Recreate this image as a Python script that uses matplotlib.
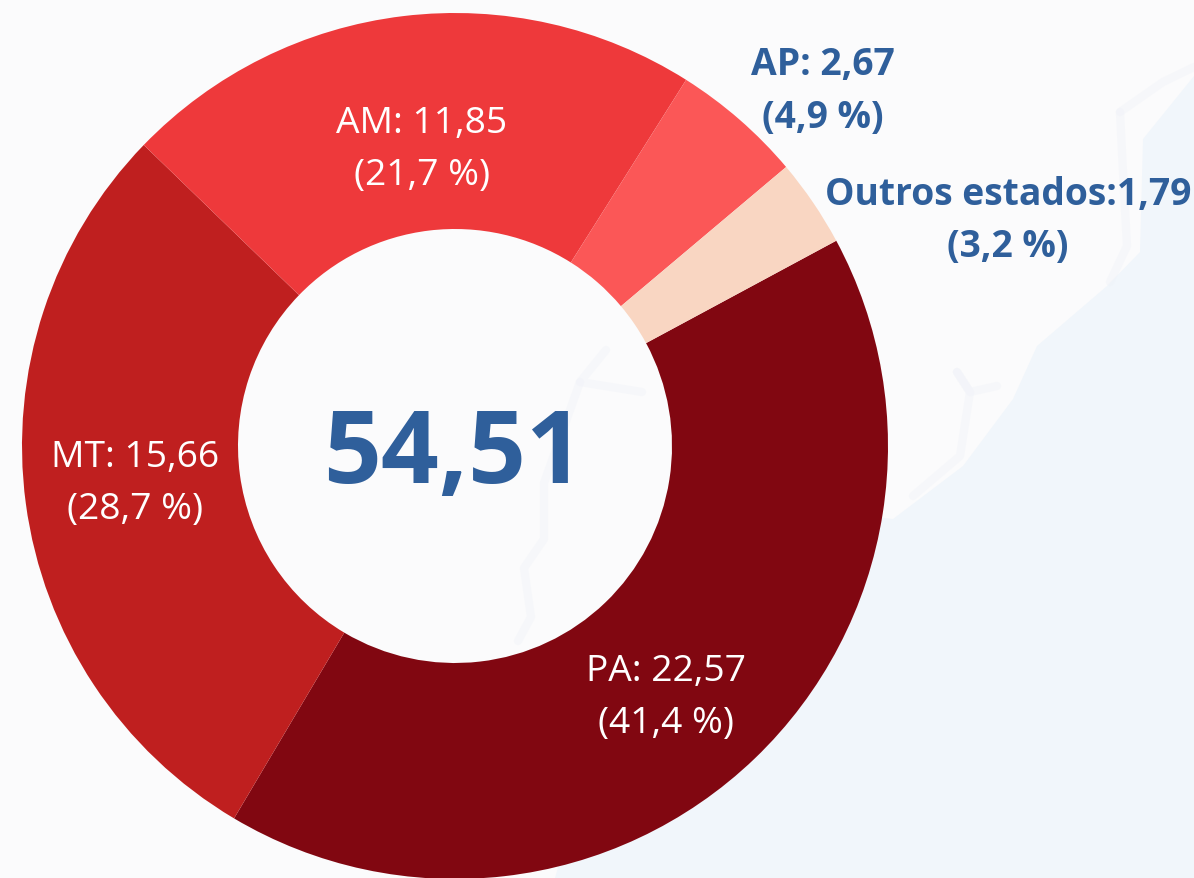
import matplotlib
matplotlib.use("Agg")
from matplotlib import pyplot as plt

estados = ["PA", "MT", "AM", "AP", "Outros estados"]
valores = [22.57, 15.66, 11.85, 2.67, 1.79]
valor_txt = ["22,57", "15,66", "11,85", "2,67", "1,79"]
pct_txt = ["41,4", "28,7", "21,7", "4,9", "3,2"]
cores = ["#810711", "#bf1f1f", "#ee393b", "#fb5757", "#f9d6c2"]
total = "54,51"

AZUL = "#2f5f9b"
W, H = 1194, 879
plt.rcParams["font.family"] = ["Open Sans", "DejaVu Sans"]

fig = plt.figure(figsize=(W / 100, H / 100), dpi=100, facecolor="#fbfbfc")

# faint map behind the chart
bg = fig.add_axes([0, 0, 1, 1], zorder=0)
bg.set_xlim(0, W)
bg.set_ylim(H, 0)
bg.axis("off")
bg.fill([893, 963, 1013, 1037, 1107, 1140, 1143, 1194, 1194, 555, 600, 720],
        [520, 467, 400, 347, 287, 253, 140, 77, 879, 879, 720, 500],
        color="#f1f6fb", lw=0)
tracos = [
    ([913, 960, 970, 957], [497, 457, 393, 373]),
    ([957, 970, 997], [373, 393, 387]),
    ([1110, 1127, 1123, 1120], [283, 247, 173, 113]),
    ([1120, 1163, 1194], [113, 83, 68]),
    ([606, 580, 642], [351, 383, 393]),
    ([580, 544, 544, 524, 531, 518], [383, 484, 540, 569, 618, 642]),
]
for xs, ys in tracos:
    bg.plot(xs, ys, color="#eef1f8", lw=6, alpha=0.35, solid_capstyle="round")

cx, cy, r_out, r_in = 455, 447, 433, 217

pie_ax = fig.add_axes([(cx - r_out) / W, 1 - (cy + r_out) / H, 2 * r_out / W, 2 * r_out / H], zorder=1)
pie_ax.pie(valores, colors=cores, startangle=28.3, counterclock=False, radius=1,
           wedgeprops=dict(width=1 - r_in / r_out, linewidth=0))
pie_ax.set_xlim(-1, 1)
pie_ax.set_ylim(-1, 1)
pie_ax.axis("off")

ax = fig.add_axes([0, 0, 1, 1], zorder=2)
ax.set_xlim(0, W)
ax.set_ylim(H, 0)
ax.axis("off")

pos_txt = [(666, 672, 724), (135, 458, 510), (422, 124, 176), (823, 65, 118), (1008, 195, 247)]
for i in range(5):
    x, y1, y2 = pos_txt[i]
    fora = i >= 3
    cor = AZUL if fora else "white"
    peso = "bold" if fora else "normal"
    sep = ":" if estados[i].startswith("Outros") else ": "
    ax.text(x, y1, estados[i] + sep + valor_txt[i], color=cor, fontweight=peso, fontsize=26.8,
            ha="center", va="center")
    ax.text(x, y2, "(" + pct_txt[i] + " %)", color=cor, fontweight=peso, fontsize=26.8,
            ha="center", va="center")
ax.text(453, 457, total, color=AZUL, fontweight="bold", fontsize=73, ha="center", va="center")

fig.savefig("out.png", dpi=100, facecolor=fig.get_facecolor())
